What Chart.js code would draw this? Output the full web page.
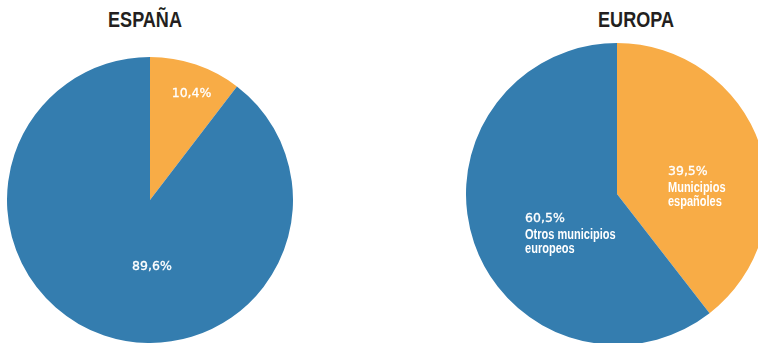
<!DOCTYPE html>
<html>
<head>
<meta charset="utf-8">
<script src="https://cdn.jsdelivr.net/npm/chart.js@4"></script>
<style>
  html, body { margin: 0; padding: 0; background: #fff; }
  body { width: 758px; height: 343px; position: relative; overflow: hidden; }
  .title {
    position: absolute; top: 5px; width: 200px; text-align: center;
    font-family: 'Liberation Sans', sans-serif;
    font-weight: bold; font-size: 22px; color: #231f20; line-height: 30px;
    transform: scaleX(0.82);
  }
  canvas { position: absolute; }
</style>
</head>
<body>
<div class="title" style="left:45px">ESPAÑA</div>
<div class="title" style="left:536px">EUROPA</div>
<canvas id="chartEspana" width="286" height="286" style="left:7px;top:57px"></canvas>
<canvas id="chartEuropa" width="302" height="302" style="left:466px;top:43px"></canvas>
<script>
const categories = ['Municipios españoles', 'Otros municipios europeos'];
const espanaValues = [10.4, 89.6];
const europaValues = [39.5, 60.5];
const europaNames = [['Municipios', 'españoles'], ['Otros municipios', 'europeos']];
const sliceColors = ['#f8ac46', '#347daf'];

const fmtPct = v => v.toFixed(1).replace('.', ',') + '%';

// narrow bold text: regular face squeezed horizontally
function narrowText(ctx, text, x, y, squeeze) {
  ctx.save();
  ctx.translate(x, y);
  ctx.scale(squeeze, 1);
  ctx.fillText(text, 0, 0);
  ctx.restore();
}

// writes the percentage (and optional name) inside each slice
const sliceLabels = {
  id: 'sliceLabels',
  afterDatasetsDraw(chart, args, opts) {
    const ctx = chart.ctx;
    const meta = chart.getDatasetMeta(0);
    const values = chart.data.datasets[0].data;
    ctx.save();
    ctx.fillStyle = '#fff';
    ctx.strokeStyle = '#fff';
    ctx.lineWidth = 0.3;
    ctx.textBaseline = 'middle';
    ctx.textAlign = opts.align;
    meta.data.forEach((arc, i) => {
      const { x, y, outerRadius } = arc.getProps(['x', 'y', 'outerRadius'], true);
      const a = opts.spots[i][0] * Math.PI / 180;
      const r = opts.spots[i][1] * outerRadius;
      const lx = x + Math.sin(a) * r;
      let ly = y - Math.cos(a) * r;
      const pct = fmtPct(values[i]);
      ctx.font = '12.5px "DejaVu Sans", sans-serif';
      ctx.fillText(pct, lx, ly);
      ctx.strokeText(pct, lx, ly);
      if (opts.names) {
        ctx.font = 'bold 14.5px "Liberation Sans", sans-serif';
        ly += 16.5;
        opts.names[i].forEach(line => {
          narrowText(ctx, line, lx, ly, 0.76);
          ly += 14;
        });
      }
    });
    ctx.restore();
  }
};

function makePie(id, values, labelOpts) {
  return new Chart(document.getElementById(id), {
    type: 'pie',
    data: {
      labels: categories,
      datasets: [{ data: values, backgroundColor: sliceColors, borderWidth: 0 }]
    },
    options: {
      responsive: false,
      animation: false,
      layout: { padding: 0 },
      plugins: {
        legend: { display: false },
        tooltip: { enabled: false },
        sliceLabels: labelOpts
      }
    },
    plugins: [sliceLabels]
  });
}

makePie('chartEspana', espanaValues, { align: 'center', spots: [[21.3, 0.8], [178.3, 0.466]] });
makePie('chartEuropa', europaValues, { align: 'left', spots: [[66.2, 0.369], [254.8, 0.631]], names: europaNames });
</script>
</body>
</html>
